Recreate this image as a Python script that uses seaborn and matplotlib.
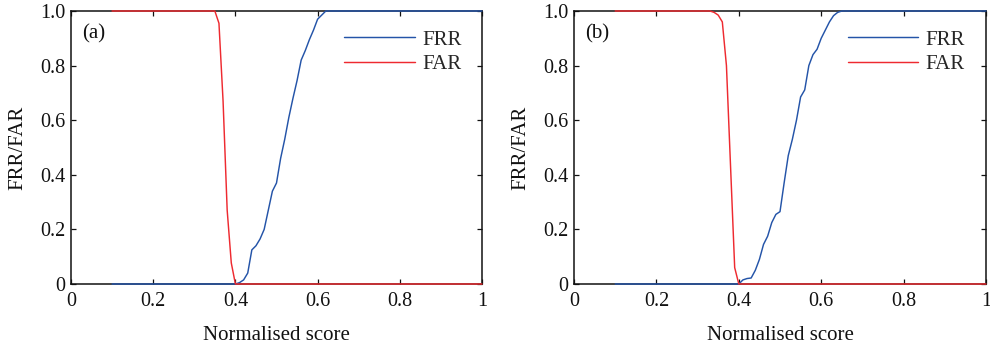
import matplotlib
matplotlib.use("Agg")
import matplotlib.pyplot as plt
import seaborn as sns
import pandas as pd

# ---- data ----
# Panel (a)
a_frr_x = [0.10, 0.40, 0.41, 0.42, 0.43, 0.44, 0.45, 0.46, 0.47, 0.48, 0.49, 0.50,
           0.51, 0.52, 0.53, 0.54, 0.55, 0.56, 0.57, 0.58, 0.59, 0.60, 0.61, 0.62, 1.00]
a_frr_y = [0.0, 0.0, 0.005, 0.015, 0.04, 0.125, 0.14, 0.165, 0.20, 0.27, 0.34, 0.37,
           0.46, 0.53, 0.61, 0.68, 0.745, 0.82, 0.855, 0.895, 0.93, 0.97, 0.985, 1.0, 1.0]
a_far_x = [0.10, 0.35, 0.36, 0.37, 0.38, 0.39, 0.40, 1.00]
a_far_y = [1.0, 1.0, 0.955, 0.67, 0.27, 0.077, 0.0, 0.0]

# Panel (b)
b_frr_x = [0.10, 0.40, 0.41, 0.42, 0.43, 0.44, 0.45, 0.46, 0.47, 0.48, 0.49, 0.50,
           0.51, 0.52, 0.53, 0.54, 0.55, 0.56, 0.57, 0.58, 0.59, 0.60, 0.61, 0.62,
           0.63, 0.64, 0.65, 1.00]
b_frr_y = [0.0, 0.0, 0.015, 0.02, 0.022, 0.05, 0.09, 0.145, 0.175, 0.225, 0.255, 0.265,
           0.37, 0.47, 0.53, 0.60, 0.685, 0.711, 0.80, 0.84, 0.86, 0.90, 0.93, 0.96,
           0.983, 0.995, 1.0, 1.0]
b_far_x = [0.10, 0.33, 0.34, 0.35, 0.36, 0.37, 0.38, 0.39, 0.40, 1.00]
b_far_y = [1.0, 1.0, 0.995, 0.985, 0.96, 0.80, 0.43, 0.06, 0.0, 0.0]

panel_labels = ["(a)", "(b)"]
series_names = ["FRR", "FAR"]
series_colors = ["#2454a8", "#ee2a30"]
x_ticks = [0, 0.2, 0.4, 0.6, 0.8, 1.0]
x_tick_labels = ["0", "0.2", "0.4", "0.6", "0.8", "1"]
y_ticks = [0, 0.2, 0.4, 0.6, 0.8, 1.0]
y_tick_labels = ["0", "0.2", "0.4", "0.6", "0.8", "1.0"]
x_label = "Normalised score"
y_label = "FRR/FAR"

sns.set_style("ticks")
plt.rcParams["font.family"] = ["Liberation Serif", "DejaVu Serif"]
plt.rcParams["mathtext.fontset"] = "stix"

fig = plt.figure(figsize=(9.9, 3.46), dpi=100)
W, H = 990, 346
ax_a = fig.add_axes([71 / W, (H - 284) / H, 411 / W, 273 / H])
ax_b = fig.add_axes([574 / W, (H - 284) / H, 412 / W, 273 / H])

panels = [
    (ax_a, (a_frr_x, a_frr_y), (a_far_x, a_far_y)),
    (ax_b, (b_frr_x, b_frr_y), (b_far_x, b_far_y)),
]

for (ax, frr, far), plabel in zip(panels, panel_labels):
    for name, (xs, ys), col in zip(series_names, [frr, far], series_colors):
        df = pd.DataFrame({"score": xs, "rate": ys})
        sns.lineplot(data=df, x="score", y="rate", ax=ax, color=col, label=name,
                     linewidth=1.05, sort=False, estimator=None, clip_on=False,
                     zorder=3)
    ax.set_xlim(0, 1)
    ax.set_ylim(0, 1)
    ax.set_xticks(x_ticks)
    ax.set_xticklabels(x_tick_labels)
    ax.set_yticks(y_ticks)
    ax.set_yticklabels(y_tick_labels)
    ax.tick_params(direction="in", length=3.5, width=0.9, top=True, right=True,
                   labelsize=14.5, colors="#111111")
    ax.tick_params(axis="x", pad=5.5)
    ax.tick_params(axis="y", pad=4)
    for sp in ax.spines.values():
        sp.set_visible(True)
        sp.set_linewidth(1.1)
        sp.set_color("#111111")
    ax.set_xlabel(x_label, fontsize=15, labelpad=11, color="#111111")
    ax.set_ylabel(y_label, fontsize=15, labelpad=9, color="#111111")
    ax.text(0.026, 0.915, plabel, transform=ax.transAxes, fontsize=15,
            va="center", ha="left", color="#111111")
    ax.legend(loc="upper left", bbox_to_anchor=(0.664, 0.93), frameon=False,
              fontsize=15, handlelength=3.4, handletextpad=0.35,
              labelspacing=0.25, borderpad=0, borderaxespad=0)

fig.savefig("out.png", dpi=100)
